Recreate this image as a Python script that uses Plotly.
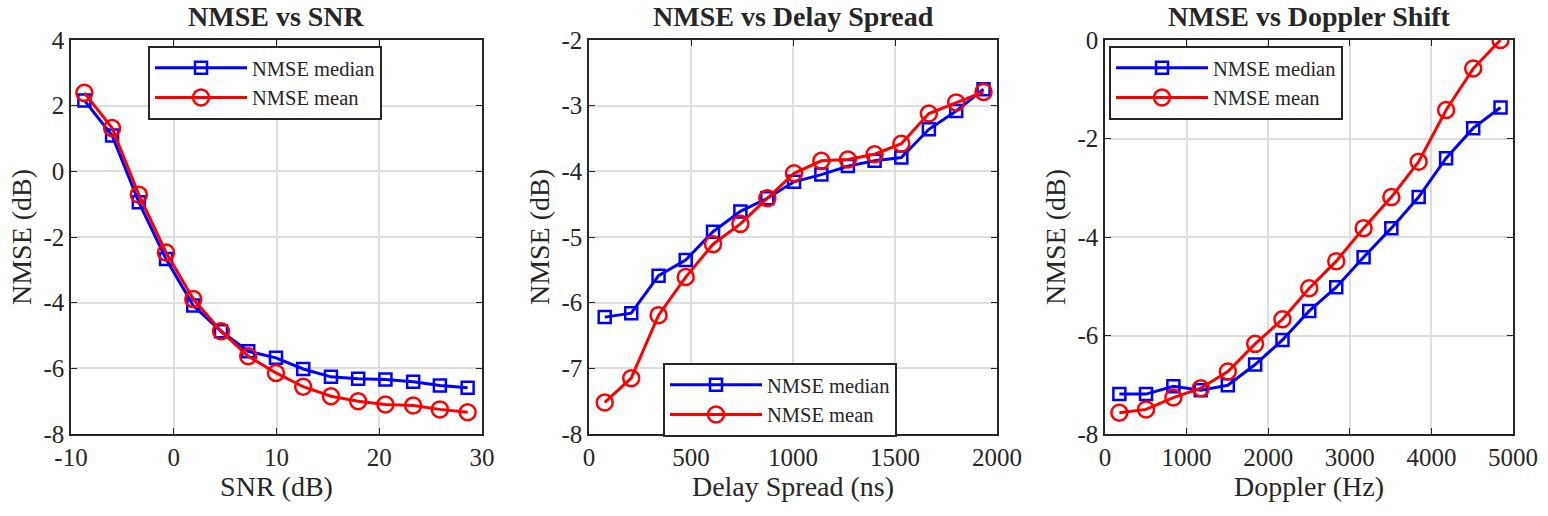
import plotly.graph_objects as go

# ---- data ----
snr_db = [-8.7, -6.0, -3.4, -0.75, 1.9, 4.6, 7.25, 9.95, 12.6, 15.3, 17.95, 20.6, 23.3, 25.9, 28.6]
snr_median = [2.16, 1.09, -0.94, -2.67, -4.09, -4.87, -5.48, -5.68, -6.02, -6.26, -6.32, -6.34, -6.41, -6.52, -6.59]
snr_mean = [2.39, 1.32, -0.71, -2.47, -3.89, -4.87, -5.63, -6.14, -6.56, -6.85, -7.00, -7.10, -7.13, -7.25, -7.34]

delay_ns = [77, 207, 341, 474, 608, 742, 874, 1005, 1139, 1269, 1400, 1531, 1666, 1800, 1934]
delay_median = [-6.22, -6.16, -5.59, -5.35, -4.92, -4.61, -4.41, -4.16, -4.05, -3.92, -3.84, -3.79, -3.36, -3.08, -2.75]
delay_mean = [-7.52, -7.15, -6.19, -5.61, -5.11, -4.80, -4.41, -4.03, -3.84, -3.82, -3.74, -3.58, -3.12, -2.95, -2.79]

doppler_hz = [176, 503, 838, 1174, 1505, 1840, 2175, 2503, 2834, 3169, 3509, 3844, 4180, 4512, 4847]
doppler_median = [-7.19, -7.19, -7.03, -7.11, -7.01, -6.59, -6.09, -5.50, -5.02, -4.41, -3.82, -3.19, -2.40, -1.79, -1.37]
doppler_mean = [-7.57, -7.50, -7.26, -7.07, -6.73, -6.17, -5.67, -5.04, -4.49, -3.82, -3.19, -2.47, -1.42, -0.58, 0.00]

titles = ["NMSE vs SNR", "NMSE vs Delay Spread", "NMSE vs Doppler Shift"]
xlabels = ["SNR (dB)", "Delay Spread (ns)", "Doppler (Hz)"]
ylabel = "NMSE (dB)"
xticks = [[-10, 0, 10, 20, 30], [0, 500, 1000, 1500, 2000], [0, 1000, 2000, 3000, 4000, 5000]]
yticks = [[-8, -6, -4, -2, 0, 2, 4], [-8, -7, -6, -5, -4, -3, -2], [-8, -6, -4, -2, 0]]
xranges = [[-10, 30], [0, 2000], [0, 5000]]
yranges = [[-8, 4], [-8, -2], [-8, 0]]

# ---- layout geometry (pixels -> paper fractions) ----
W, H = 1548, 516
ML, MR, MT, MB = 30, 30, 30, 30
PW, PH = W - ML - MR, H - MT - MB


def px(xp):
    return (xp - ML) / PW


def py(yp):
    return (H - MB - yp) / PH


xdoms = [[px(71), px(482)], [px(589), px(997)], [px(1105), px(1513)]]
ydom = [py(434), py(40)]
legend_pos = [(px(148), py(46)), (px(663), py(363)), (px(1109), py(46))]

FONT = "Liberation Serif"
TXT = "#262626"
BLUE = "#0000ff"
RED = "#ff0000"


def fmt(v):
    return str(v)  # plain hyphen-minus like the reference


fig = go.Figure()
series = [(snr_db, snr_median, snr_mean), (delay_ns, delay_median, delay_mean), (doppler_hz, doppler_median, doppler_mean)]
for i, (xs, med, mean) in enumerate(series):
    sfx = "" if i == 0 else str(i + 1)
    lg = "legend" + sfx
    fig.add_trace(go.Scatter(x=xs, y=med, mode="lines+markers", name="NMSE median",
                             line=dict(color=BLUE, width=3),
                             marker=dict(symbol="square-open", size=12, color=BLUE, line=dict(width=2.5, color=BLUE)),
                             xaxis="x" + sfx, yaxis="y" + sfx, legend=lg))
    fig.add_trace(go.Scatter(x=xs, y=mean, mode="lines+markers", name="NMSE mean",
                             line=dict(color=RED, width=3),
                             marker=dict(symbol="circle-open", size=16, color=RED, line=dict(width=2.5, color=RED)),
                             xaxis="x" + sfx, yaxis="y" + sfx, legend=lg))

layout = dict(
    width=W, height=H,
    margin=dict(l=ML, r=MR, t=MT, b=MB, autoexpand=False),
    paper_bgcolor="white", plot_bgcolor="white",
    font=dict(family=FONT, size=22, color=TXT),
    annotations=[],
)
axis_common = dict(showline=True, linecolor="#262626", linewidth=1.5, mirror="ticks",
                   ticks="inside", ticklen=6, tickwidth=1.2, tickcolor="#262626",
                   showgrid=True, gridcolor="#dedede", gridwidth=1.8, zeroline=False,
                   tickfont=dict(family=FONT, size=25, color=TXT))
for i in range(3):
    sfx = "" if i == 0 else str(i + 1)
    layout["xaxis" + sfx] = dict(axis_common, domain=xdoms[i], range=xranges[i],
                                 tickvals=xticks[i], ticktext=[fmt(v) for v in xticks[i]],
                                 anchor="y" + sfx,
                                 title=dict(text=xlabels[i], font=dict(family=FONT, size=28, color=TXT), standoff=4))
    layout["yaxis" + sfx] = dict(axis_common, domain=ydom, range=yranges[i],
                                 tickvals=yticks[i], ticktext=[fmt(v) for v in yticks[i]],
                                 anchor="x" + sfx,
                                 title=dict(text=ylabel, font=dict(family=FONT, size=28, color=TXT), standoff=4))
    lg = "legend" + sfx
    layout[lg] = dict(x=legend_pos[i][0], y=legend_pos[i][1], xanchor="left", yanchor="top",
                      bgcolor="white", bordercolor="#262626", borderwidth=2,
                      font=dict(family=FONT, size=20.5, color=TXT), itemwidth=92,
                      tracegroupgap=0)
    layout["annotations"].append(dict(text="<b>" + titles[i] + "</b>", x=(xdoms[i][0] + xdoms[i][1]) / 2,
                                      y=py(16), xref="paper", yref="paper", showarrow=False,
                                      xanchor="center", yanchor="middle",
                                      font=dict(family=FONT, size=28, color=TXT)))
fig.update_layout(**layout)
fig.write_html("out.html")
